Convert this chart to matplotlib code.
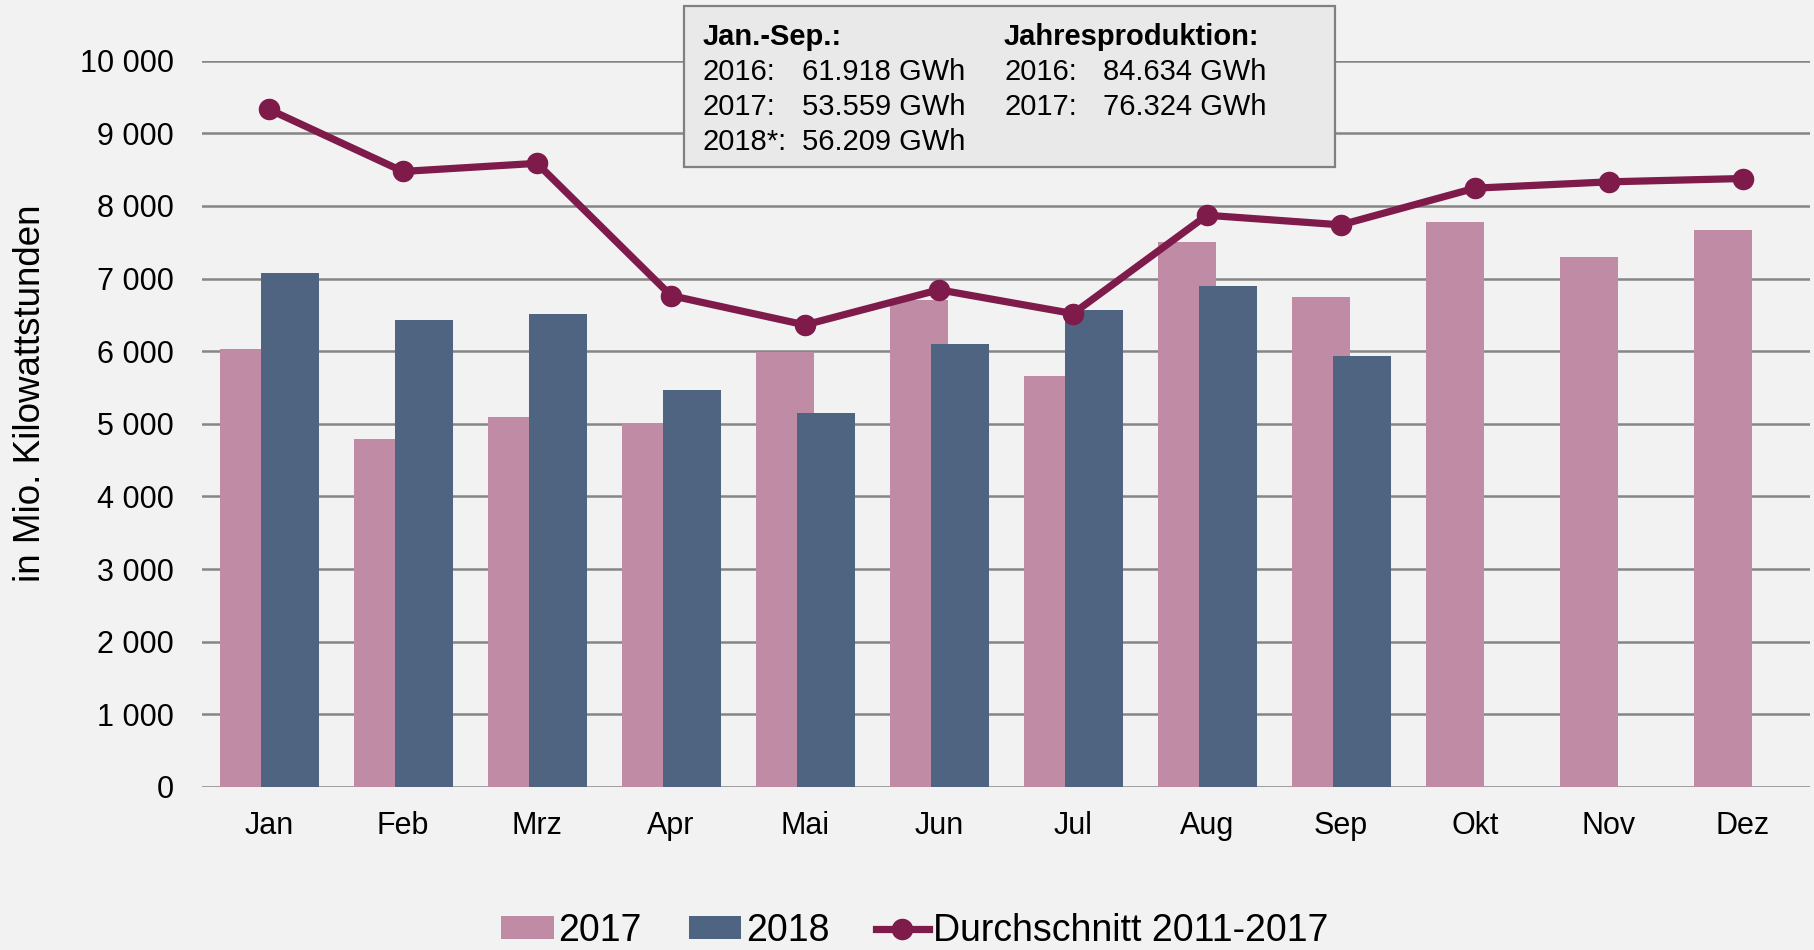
import numpy as np
import matplotlib.pyplot as plt
from matplotlib.patches import Rectangle

plt.rcParams['font.family'] = ['Liberation Sans', 'DejaVu Sans']

# Data (Mio. kWh)
months = ['Jan', 'Feb', 'Mrz', 'Apr', 'Mai', 'Jun', 'Jul', 'Aug', 'Sep', 'Okt', 'Nov', 'Dez']
prod_2017 = [6025, 4795, 5100, 5015, 5985, 6710, 5660, 7505, 6745, 7785, 7300, 7665]
prod_2018 = [7080, 6436, 6514, 5472, 5150, 6102, 6570, 6898, 5940]
avg_2011_2017 = [9330, 8475, 8587, 6766, 6362, 6846, 6518, 7872, 7740, 8245, 8332, 8378]
yticks = [0, 1000, 2000, 3000, 4000, 5000, 6000, 7000, 8000, 9000, 10000]
ytick_labels = ['0', '1 000', '2 000', '3 000', '4 000', '5 000', '6 000',
                '7 000', '8 000', '9 000', '10 000']

box_left = ['2016:', '2017:', '2018*:']
box_left_vals = ['61.918 GWh', '53.559 GWh', '56.209 GWh']
box_right = ['2016:', '2017:']
box_right_vals = ['84.634 GWh', '76.324 GWh']

c_2017 = '#BF8BA5'
c_2018 = '#4E6480'
c_avg = '#7E1B4B'
bg = '#F2F2F2'

W, H = 1814, 950
fig = plt.figure(figsize=(W / 100, H / 100), dpi=100, facecolor=bg)
ax = fig.add_axes([202 / W, 1 - 787 / H, (1810 - 202) / W, (787 - 60.7) / H])
ax.set_facecolor(bg)

x = np.arange(len(months))
bw = 0.433
b17 = ax.bar(x - 0.152, prod_2017, bw, color=c_2017, label='2017', zorder=2)
b18 = ax.bar(x[:len(prod_2018)] + 0.154, prod_2018, bw, color=c_2018, label='2018', zorder=3)
ln, = ax.plot(x, avg_2011_2017, color=c_avg, lw=5.2, marker='o', ms=14.5,
              label='Durchschnitt 2011-2017', zorder=4)

ax.set_xlim(-0.5, 11.5)
ax.set_ylim(0, 10000)
ax.set_yticks(yticks)
ax.set_yticklabels(ytick_labels)
ax.set_xticks(x)
ax.set_xticklabels(months)
ax.tick_params(axis='both', length=0, labelsize=22)
ax.tick_params(axis='y', pad=20)
ax.tick_params(axis='x', pad=17)
ax.grid(axis='y', color='#858585', lw=1.8, zorder=1)
ax.set_axisbelow(True)
for s in ax.spines.values():
    s.set_visible(False)

fig.text(31 / W, 1 - 393 / H, 'in Mio. Kilowattstunden', rotation=90,
         ha='center', va='center', fontsize=26.5)

# info box
fig.patches.append(Rectangle((684 / W, 1 - 167 / H), (1335 - 684) / W, (167 - 6) / H,
                             transform=fig.transFigure, facecolor='#E9E9E9',
                             edgecolor='#808080', lw=1.6, zorder=5))
rows = [45, 80, 115, 150]
fs = 21
fig.text(703 / W, 1 - rows[0] / H, 'Jan.-Sep.:', fontsize=fs, fontweight='bold',
         va='baseline', zorder=6)
fig.text(1004 / W, 1 - rows[0] / H, 'Jahresproduktion:', fontsize=fs, fontweight='bold',
         va='baseline', zorder=6)
for i, (lab, val) in enumerate(zip(box_left, box_left_vals)):
    fig.text(703 / W, 1 - rows[i + 1] / H, lab, fontsize=fs, va='baseline', zorder=6)
    fig.text(802 / W, 1 - rows[i + 1] / H, val, fontsize=fs, va='baseline', zorder=6)
for i, (lab, val) in enumerate(zip(box_right, box_right_vals)):
    fig.text(1004 / W, 1 - rows[i + 1] / H, lab, fontsize=fs, va='baseline', zorder=6)
    fig.text(1103 / W, 1 - rows[i + 1] / H, val, fontsize=fs, va='baseline', zorder=6)

fig.legend([b17, b18, ln], ['2017', '2018', 'Durchschnitt 2011-2017'],
           loc='center', bbox_to_anchor=(915 / W, 1 - 931 / H), ncol=3, frameon=False,
           fontsize=27, handlelength=1.4, handleheight=0.55, handletextpad=0.12,
           columnspacing=1.25, borderpad=0)

fig.savefig('out.png', dpi=100, facecolor=bg)
